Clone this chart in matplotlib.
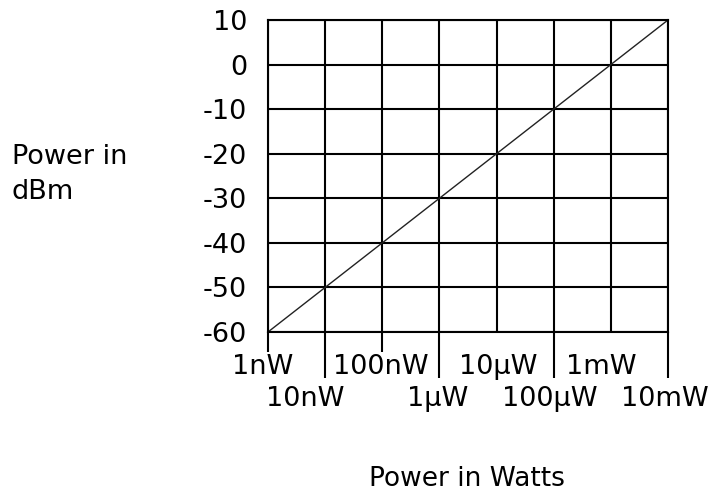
import matplotlib
matplotlib.use("Agg")
import matplotlib.pyplot as plt

# decade points (watts) and the matching dBm values
watts = [1e-9, 1e-8, 1e-7, 1e-6, 1e-5, 1e-4, 1e-3, 1e-2]
dbm = [-60, -50, -40, -30, -20, -10, 0, 10]
watt_labels = ["1nW", "10nW", "100nW", "1\u00b5W", "10\u00b5W", "100\u00b5W", "1mW", "10mW"]
dbm_ticks = [-60, -50, -40, -30, -20, -10, 0, 10]

# which labels sit on the upper / lower row under the axis
upper_row = [0, 2, 4, 6]
lower_row = [1, 3, 5, 7]
# small horizontal nudges (points) so labels sit like the original
nudge = [-4, -14, -1, -1, 1, -3, -7, -2]

plt.rcParams['font.family'] = ['DejaVu Sans']
plt.rcParams['font.size'] = 19.5
plt.rcParams['axes.unicode_minus'] = False

fig = plt.figure(figsize=(7.11, 4.98), dpi=100)
ax = fig.add_axes([268/711, 166/498, 400/711, 312/498])

ax.set_xscale('log')
ax.set_xlim(watts[0], watts[-1])
ax.set_ylim(dbm_ticks[0], dbm_ticks[-1])

# grid drawn by hand so every decade gets a line
for w in watts:
    ax.axvline(w, color='black', lw=1.5, zorder=1)
for d in dbm_ticks:
    ax.axhline(d, color='black', lw=1.5, zorder=1)

ax.plot(watts, dbm, color='#222222', lw=1.0, zorder=2)

for s in ax.spines.values():
    s.set_linewidth(1.5)

ax.set_yticks(dbm_ticks)
ax.tick_params(axis='y', length=0, pad=15)

# long ticks under the lower-row labels, short ticks for 1nW / 100nW
ax.set_xticks([watts[i] for i in lower_row])
ax.set_xticks([watts[0], watts[2]], minor=True)
ax.set_xticklabels([])
ax.set_xticklabels([], minor=True)
ax.tick_params(axis='x', which='major', direction='out', length=33, width=1.5)
ax.tick_params(axis='x', which='minor', direction='out', length=14.5, width=1.5)

for i in upper_row:
    ax.annotate(watt_labels[i], xy=(watts[i], 0), xycoords=('data', 'axes fraction'),
                xytext=(nudge[i], -25), textcoords='offset points', ha='center', va='center')
for i in lower_row:
    ax.annotate(watt_labels[i], xy=(watts[i], 0), xycoords=('data', 'axes fraction'),
                xytext=(nudge[i], -48), textcoords='offset points', ha='center', va='center')

fig.text(12/711, 1 - 157/498, "Power in", ha='left', va='center')
fig.text(12/711, 1 - 192/498, "dBm", ha='left', va='center')
fig.text(467/711, 6/498, "Power in Watts", ha='center', va='bottom', fontsize=19)

fig.savefig("out.png", dpi=100)
